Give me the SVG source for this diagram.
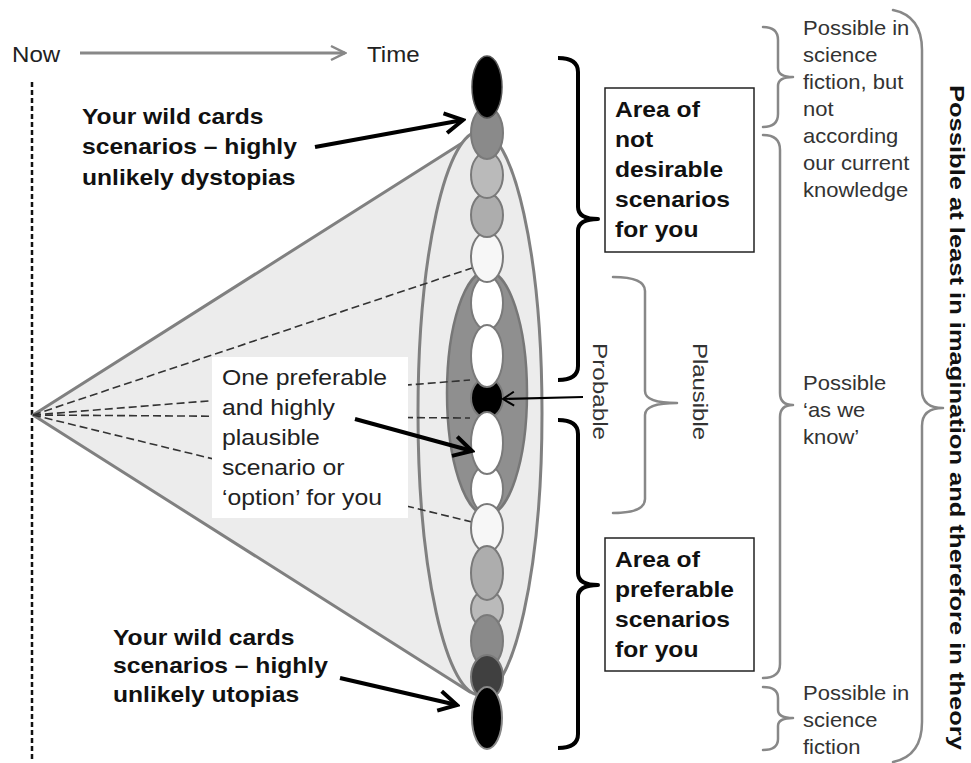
<svg xmlns="http://www.w3.org/2000/svg" width="971" height="763" viewBox="0 0 971 763">
<style>
text{font-family:"Liberation Sans",Arial,sans-serif;}
.body{font-size:22.5px;fill:#222;}
.bold{font-size:22.4px;font-weight:bold;fill:#111;}
.side{font-size:20px;fill:#333;}
.rot{font-size:21px;fill:#333;}
.chain{stroke:#7a7a7a;stroke-width:2;}
.gbr{fill:none;stroke:#888;stroke-width:2.5;stroke-linecap:round;stroke-linejoin:round;}
.bbr{fill:none;stroke:#000;stroke-width:4;stroke-linecap:butt;stroke-linejoin:round;}
.dash{stroke:#333;stroke-width:1.6;stroke-dasharray:8 4;fill:none;}
.box{fill:#fff;stroke:#222;stroke-width:1.5;}
</style>
<defs>
<marker id="ahBig" viewBox="0 0 24 24" markerWidth="24" markerHeight="24" refX="21" refY="12" orient="auto" markerUnits="userSpaceOnUse">
<path d="M3,2 L21,12 L3,22" fill="none" stroke="#000" stroke-width="4"/>
</marker>
<marker id="ahThin" viewBox="0 0 16 16" markerWidth="16" markerHeight="16" refX="14" refY="8" orient="auto" markerUnits="userSpaceOnUse">
<path d="M3,1 L14,8 L3,15" fill="none" stroke="#000" stroke-width="2"/>
</marker>
<marker id="ahGray" viewBox="0 0 18 18" markerWidth="18" markerHeight="18" refX="16" refY="9" orient="auto" markerUnits="userSpaceOnUse">
<path d="M2,2 L16,9 L2,16" fill="none" stroke="#888" stroke-width="2.5"/>
</marker>
</defs>
<rect width="971" height="763" fill="#fff"/>

<g id="timeline">
<text class="body" transform="matrix(1.07 0 0 1 12 0)" x="0" y="62">Now</text>
<line x1="80" y1="53" x2="345" y2="53" stroke="#888" stroke-width="3" marker-end="url(#ahGray)"/>
<text class="body" transform="matrix(1.07 0 0 1 367 0)" x="0" y="62">Time</text>
<line x1="32" y1="82" x2="32" y2="760" stroke="#111" stroke-width="2.5" stroke-dasharray="5 3"/>
</g>

<g id="cone">
<polygon points="33,415 470,138 470,692" fill="#ececec" stroke="#808080" stroke-width="3" stroke-linejoin="round"/>
<ellipse cx="480" cy="413" rx="62" ry="282" fill="#ececec" stroke="#808080" stroke-width="3"/>
<ellipse cx="487" cy="393" rx="40" ry="122" fill="#8f8f8f" stroke="#777" stroke-width="2.5"/>
</g>

<g id="connectors">
<line class="dash" x1="33" y1="415" x2="472" y2="268"/>
<line class="dash" x1="33" y1="415" x2="470" y2="380"/>
<line class="dash" x1="33" y1="415" x2="470" y2="418"/>
<line class="dash" x1="33" y1="415" x2="472" y2="522"/>
</g>

<g id="chain">
<ellipse class="chain" cx="487" cy="398" rx="16" ry="20" fill="#000"/>
<ellipse class="chain" cx="487" cy="303" rx="16" ry="27" fill="#fff"/>
<ellipse class="chain" cx="487" cy="356" rx="16" ry="31" fill="#fff"/>
<ellipse class="chain" cx="487" cy="257" rx="16" ry="25" fill="#f7f7f7"/>
<ellipse class="chain" cx="487" cy="215" rx="16" ry="22" fill="#adadad"/>
<ellipse class="chain" cx="487" cy="175" rx="16" ry="23" fill="#bababa"/>
<ellipse class="chain" cx="487" cy="133" rx="16" ry="26" fill="#8a8a8a"/>
<ellipse cx="487" cy="87" rx="15" ry="31" fill="#000" stroke="#555" stroke-width="1.5"/>
<ellipse class="chain" cx="487" cy="489" rx="16" ry="24" fill="#fff"/>
<ellipse class="chain" cx="487" cy="443" rx="16" ry="31" fill="#fff"/>
<ellipse class="chain" cx="487" cy="528" rx="16" ry="24" fill="#f7f7f7"/>
<ellipse class="chain" cx="487" cy="609" rx="16" ry="19" fill="#bababa"/>
<ellipse class="chain" cx="487" cy="573" rx="16" ry="27" fill="#adadad"/>
<ellipse class="chain" cx="487" cy="641" rx="16" ry="26" fill="#8a8a8a"/>
<ellipse class="chain" cx="487" cy="677" rx="16" ry="22" fill="#404040"/>
<ellipse cx="487" cy="718" rx="15" ry="31" fill="#000" stroke="#888" stroke-width="2"/>
</g>

<g id="label-dystopias">
<text class="bold" transform="matrix(1.1 0 0 1 82 0)"><tspan x="0" y="124">Your wild cards</tspan><tspan x="0" y="154">scenarios – highly</tspan><tspan x="0" y="185">unlikely dystopias</tspan></text>
<line x1="315" y1="147" x2="463" y2="120" stroke="#000" stroke-width="4" marker-end="url(#ahBig)"/>
</g>

<g id="label-utopias">
<text class="bold" transform="matrix(1.1 0 0 1 113 0)"><tspan x="0" y="645">Your wild cards</tspan><tspan x="0" y="673">scenarios – highly</tspan><tspan x="0" y="702">unlikely utopias</tspan></text>
<line x1="340" y1="678" x2="457" y2="705" stroke="#000" stroke-width="4" marker-end="url(#ahBig)"/>
</g>

<g id="label-preferable">
<rect x="212" y="357" width="196" height="161" fill="#fff"/>
<text class="body" transform="matrix(1.1 0 0 1 222 0)"><tspan x="0" y="385">One preferable</tspan><tspan x="0" y="415">and highly</tspan><tspan x="0" y="445">plausible</tspan><tspan x="0" y="475">scenario or</tspan><tspan x="0" y="505">‘option’ for you</tspan></text>
<line x1="355" y1="419" x2="472" y2="451" stroke="#000" stroke-width="4" marker-end="url(#ahBig)"/>
</g>

<g id="bracket-not-desirable">
<path class="bbr" d="M558,58 Q578,58 578,72 L578,207 Q578,219 598,219 Q578,219 578,231 L578,366 Q578,380 558,380"/>
<rect class="box" x="605" y="88" width="149" height="164"/>
<text class="bold" transform="matrix(1.1 0 0 1 615 0)"><tspan x="0" y="117">Area of</tspan><tspan x="0" y="147">not</tspan><tspan x="0" y="177">desirable</tspan><tspan x="0" y="207">scenarios</tspan><tspan x="0" y="237">for you</tspan></text>
</g>

<g id="bracket-preferable">
<path class="bbr" d="M558,420 Q578,420 578,434 L578,573 Q578,585 598,585 Q578,585 578,597 L578,734 Q578,748 558,748"/>
<rect class="box" x="605" y="538" width="149" height="133"/>
<text class="bold" transform="matrix(1.1 0 0 1 615 0)"><tspan x="0" y="567">Area of</tspan><tspan x="0" y="597">preferable</tspan><tspan x="0" y="627">scenarios</tspan><tspan x="0" y="657">for you</tspan></text>
</g>

<g id="probable">
<text class="rot" transform="translate(593 343) rotate(90)" x="0" y="0" textLength="97" lengthAdjust="spacingAndGlyphs">Probable</text>
<line x1="583" y1="397" x2="503" y2="399" stroke="#000" stroke-width="2" marker-end="url(#ahThin)"/>
</g>

<g id="plausible">
<path class="gbr" d="M613,277 Q645,277 645,291 L645,391 Q645,403 677,403 Q645,403 645,415 L645,499 Q645,513 613,513"/>
<text class="rot" transform="translate(693 343) rotate(90)" x="0" y="0" textLength="97" lengthAdjust="spacingAndGlyphs">Plausible</text>
</g>

<g id="possible-sf-top">
<path class="gbr" d="M763,27 Q778,27 778,40 L778,68 Q778,77 793,77 Q778,77 778,86 L778,114 Q778,127 763,127"/>
<text class="side" transform="matrix(1.1 0 0 1 803 0)"><tspan x="0" y="35">Possible in</tspan><tspan x="0" y="62">science</tspan><tspan x="0" y="89">fiction, but</tspan><tspan x="0" y="116">not</tspan><tspan x="0" y="143">according</tspan><tspan x="0" y="170">our current</tspan><tspan x="0" y="197">knowledge</tspan></text>
</g>

<g id="possible-as-we-know">
<path class="gbr" d="M763,135 Q780,135 780,150 L780,393 Q780,405 793,405 Q780,405 780,417 L780,664 Q780,678 763,678"/>
<text class="side" transform="matrix(1.1 0 0 1 803 0)"><tspan x="0" y="390">Possible</tspan><tspan x="0" y="417">‘as we</tspan><tspan x="0" y="444">know’</tspan></text>
</g>

<g id="possible-sf-bottom">
<path class="gbr" d="M763,687 Q778,687 778,698 L778,710 Q778,718 793,718 Q778,718 778,726 L778,739 Q778,750 763,750"/>
<text class="side" transform="matrix(1.1 0 0 1 803 0)"><tspan x="0" y="700">Possible in</tspan><tspan x="0" y="727">science</tspan><tspan x="0" y="754">fiction</tspan></text>
</g>

<g id="possible-imagination">
<path class="gbr" d="M893,10 Q922,16 922,50 L922,390 Q922,408 943,408 Q922,408 922,426 L922,722 Q922,756 893,762"/>
<text class="bold" style="font-size:21px" transform="translate(950 85) rotate(90)" x="0" y="0" textLength="665" lengthAdjust="spacingAndGlyphs">Possible at least in imagination and therefore in theory</text>
</g>
</svg>
